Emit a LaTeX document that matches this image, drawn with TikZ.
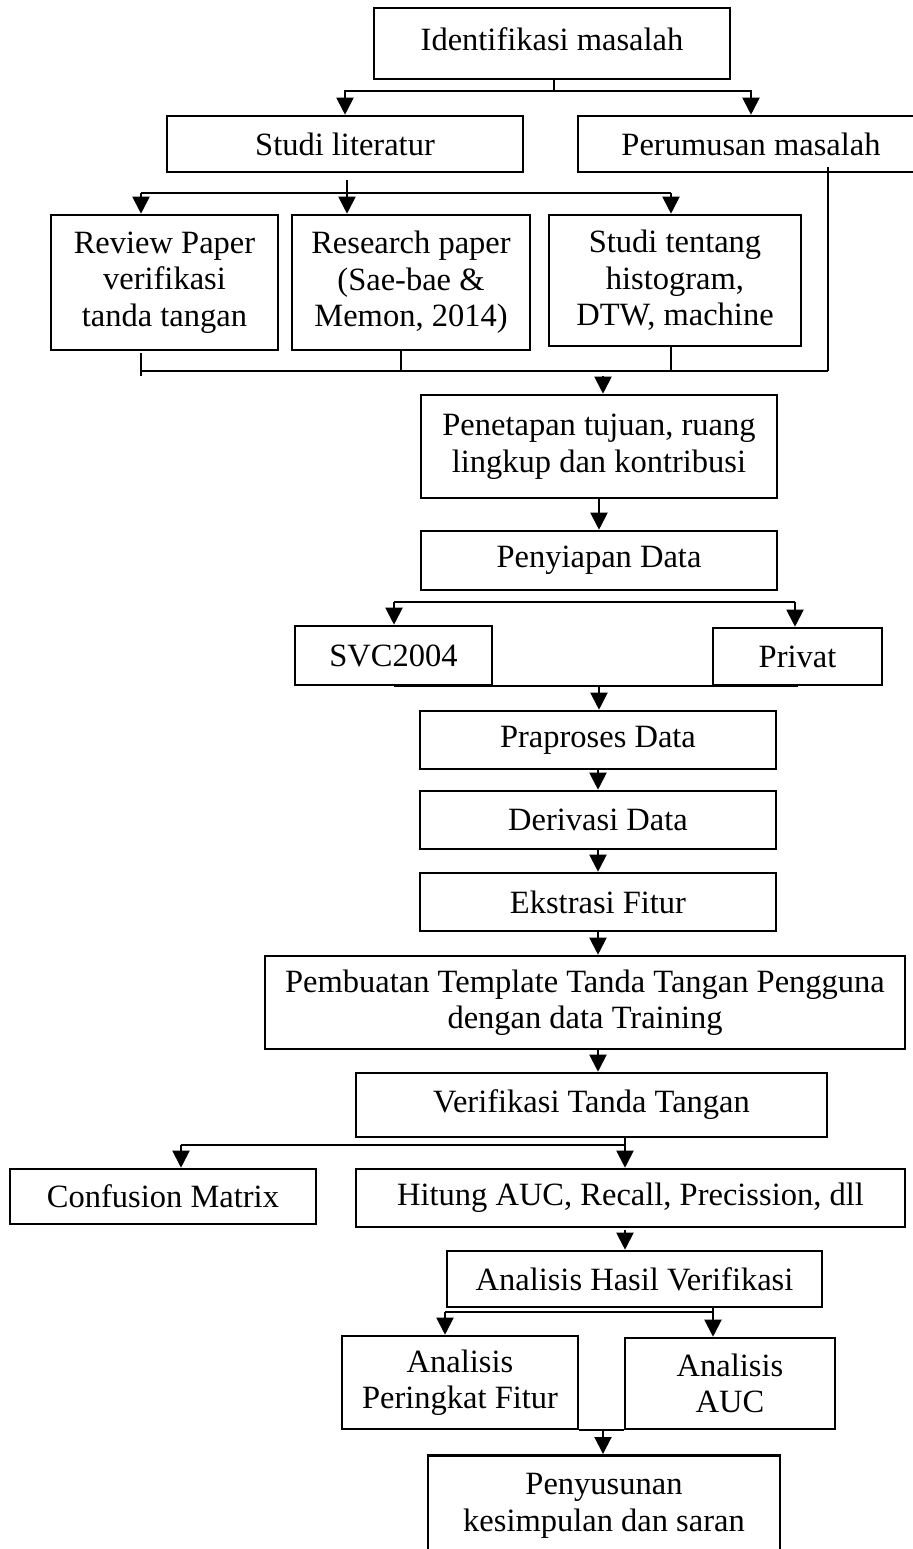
\documentclass[tikz,border=0pt]{standalone}
\usepackage{fontspec}
\setmainfont{Liberation Serif}
\usetikzlibrary{arrows.meta,calc}

\begin{document}
\begin{tikzpicture}[
  x=0.5pt, y=-0.5pt,
  font=\fontsize{16.25pt}{18.25pt}\selectfont,
  >={Triangle[length=8.5pt,width=8.5pt]},
  box/.style={draw, line width=1.3pt, align=center, inner sep=0pt},
  arrow/.style={->, line width=1pt},
  link/.style={line width=1pt},
  thin/.style={line width=0.7pt},
]
\useasboundingbox (0,0) rectangle (912,1549);

% Awal
\node[box, minimum width=178pt, minimum height=35.5pt, text depth=4pt] (ident) at (552,43.5) {Identifikasi masalah};
\node[box, minimum width=178pt, minimum height=28pt] (studi) at (345,144) {Studi literatur};
\node[box, minimum width=173pt, minimum height=28pt] (rumus) at (751,144) {Perumusan masalah};

% Literatur
\node[box, minimum width=113.5pt, minimum height=67.5pt] (review) at (164.5,282.5) {Review Paper\\verifikasi\\tanda tangan};
\node[box, minimum width=119pt, minimum height=67.5pt] (paper) at (411,282.5) {Research paper\\(Sae-bae \&\\Memon, 2014)};
\node[box, minimum width=126pt, minimum height=65.5pt] (teori) at (675,280.5) {Studi tentang\\histogram,\\DTW, machine};

% Data
\node[box, minimum width=178pt, minimum height=51.5pt] (tujuan) at (599,446.5) {Penetapan tujuan, ruang\\lingkup dan kontribusi};
\node[box, minimum width=178pt, minimum height=29.5pt] (siap) at (599,560.5) {Penyiapan Data};
\node[box, minimum width=98.5pt, minimum height=29.5pt] (svc) at (393.5,655.5) {SVC2004};
\node[box, minimum width=84.5pt, minimum height=28.5pt] (privat) at (797.5,656.5) {Privat};
\node[box, minimum width=178pt, minimum height=29pt] (prapros) at (598,740) {Praproses Data};
\node[box, minimum width=178pt, minimum height=29pt] (derivasi) at (598,820) {Derivasi Data};
\node[box, minimum width=178pt, minimum height=29pt] (fitur) at (598,902) {Ekstrasi Fitur};
\node[box, minimum width=320pt, minimum height=46.5pt] (template) at (585,1002.5) {Pembuatan Template Tanda Tangan Pengguna\\dengan data Training};

% Verifikasi dan analisis
\node[box, minimum width=235.5pt, minimum height=32pt] (verif) at (591.5,1105) {Verifikasi Tanda Tangan};
\node[box, minimum width=153pt, minimum height=27.5pt] (confusion) at (163,1196.5) {Confusion Matrix};
\node[box, minimum width=274.5pt, minimum height=29pt] (hitung) at (630.5,1198) {Hitung AUC, Recall, Precission, dll};
\node[box, minimum width=187.5pt, minimum height=28pt] (hasil) at (634.5,1279) {Analisis Hasil Verifikasi};
\node[box, minimum width=118pt, minimum height=46.5pt] (peringkat) at (460,1382.5) {Analisis\\Peringkat Fitur};
\node[box, minimum width=105pt, minimum height=45.5pt] (auc) at (730,1383.5) {Analisis\\AUC};
\node[box, anchor=north, minimum width=176pt, inner ysep=9pt, text depth=30pt] (susun) at (604,1454) {Penyusunan\\kesimpulan dan saran};

% Alur atas
\coordinate (c1) at (554,91);
\draw[link] (ident.south -| c1) -- (c1);
\draw[arrow] (c1) -| (studi.north);
\draw[arrow] (c1) -| (rumus.north);

\coordinate (s1) at (347,180);
\coordinate (c2) at (347,193);
\coordinate (l1) at (141,193);
\coordinate (r1) at (671,193);
\draw[link] (s1) -- (c2);
\draw[link] (l1) -- (r1);
\draw[arrow] (l1) -- (l1 |- review.north);
\draw[arrow] (c2) -- (c2 |- paper.north);
\draw[arrow] (r1) -- (r1 |- teori.north);

% Gabung ke tujuan
\coordinate (l2a) at (141,353);
\coordinate (l2b) at (141,376);
\coordinate (l2) at (141,371);
\coordinate (m2) at (401,371);
\coordinate (t2) at (671,371);
\coordinate (p2) at (828,371);
\draw[link] (l2a) -- (l2b);
\draw[thin] (m2 |- paper.south) -- (m2);
\draw[thin] (t2 |- teori.south) -- (t2);
\draw[thin] ($(p2 |- rumus.south)+(0,-6)$) -- (p2);
\draw[link] (l2) -- (p2);
\coordinate (a3) at (603,376);
\draw[arrow] (a3) -- (a3 |- tujuan.north);
\draw[arrow] (tujuan.south) -- (siap.north);

% Dataset
\coordinate (l4) at (394,602);
\coordinate (r4) at (795,602);
\draw[link] (l4) -- (r4);
\draw[arrow] (l4) -- (l4 |- svc.north);
\draw[arrow] (r4) -- (r4 |- privat.north);
\draw[link] (svc.south) -- (privat.south |- svc.south);
\coordinate (a5) at (599,686);
\draw[arrow] (a5) -- (a5 |- prapros.north);

\draw[arrow] (prapros.south) -- (derivasi.north);
\draw[arrow] (derivasi.south) -- (fitur.north);
\draw[arrow] (fitur.south) -- (fitur.south |- template.north);
\draw[arrow] (fitur.south |- template.south) -- (fitur.south |- verif.north);

% Hasil
\coordinate (c6) at (625,1145);
\coordinate (l6) at (181,1145);
\draw[link] (c6 |- verif.south) -- (c6);
\draw[link] (l6) -- (c6);
\draw[arrow] (l6) -- (l6 |- confusion.north);
\draw[arrow] (c6) -- (c6 |- hitung.north);

\coordinate (a7) at (625,1230);
\draw[arrow] (a7) -- (a7 |- hasil.north);

\coordinate (r8) at (713,1312);
\coordinate (l8) at (445,1312);
\draw[link] (r8 |- hasil.south) -- (r8);
\draw[link] (l8) -- (r8);
\draw[arrow] (l8) -- (l8 |- peringkat.north);
\draw[arrow] (r8) -- (r8 |- auc.north);

\draw[link] (peringkat.south east) -- (auc.south west);
\coordinate (a9) at (603,1429);
\draw[arrow] (a9) -- (a9 |- susun.north);
\end{tikzpicture}
\end{document}
